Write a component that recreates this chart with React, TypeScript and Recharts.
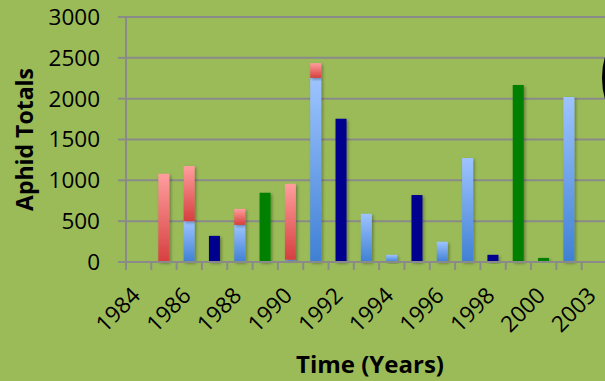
import React from 'react'
import { ComposedChart, Bar, XAxis, YAxis, CartesianGrid } from 'recharts'

const years = [
  '1984', '1985', '1986', '1987', '1988', '1989', '1990', '1991', '1992', '1993',
  '1994', '1995', '1996', '1997', '1998', '1999', '2000', '2001', '2003',
]
const lightBlue = [null, null, 500, null, 455, null, 28, 2255, null, 590, 88, null, 248, 1275, null, null, null, 2020, null]
const navy = [null, null, null, 320, null, null, null, null, 1755, null, null, 820, null, null, 88, null, null, null, null]
const green = [null, null, null, null, null, 848, null, null, null, null, null, null, null, null, null, 2168, 50, null, null]
const red = [null, 1080, 675, null, 195, null, 930, 180, null, null, null, null, null, null, null, null, null, null, null]
const yTicks = [0, 500, 1000, 1500, 2000, 2500, 3000]

const data = years.map((year, i) => ({
  year,
  lightBlue: lightBlue[i],
  navy: navy[i],
  green: green[i],
  red: red[i],
}))

const FONT = '"Open Sans", sans-serif'
const GRID = '#8a8a8a'

const YearTick = (props: any) => {
  const { x, y, payload, index } = props
  const half = payload && payload.offset ? payload.offset : 12.65
  const lx = x + 3
  const ly = y + 35
  return (
    <g>
      <line x1={x - half} y1={y} x2={x - half} y2={y + 8} stroke={GRID} strokeWidth={2} />
      {index === years.length - 1 && (
        <line x1={x + half} y1={y} x2={x + half} y2={y + 8} stroke={GRID} strokeWidth={2} />
      )}
      {index % 2 === 0 && (
        <text
          x={lx}
          y={ly}
          textAnchor="end"
          transform={`rotate(-45, ${lx}, ${ly})`}
          fontFamily={FONT}
          fontSize={22.5}
          fill="#000"
        >
          {payload.value}
        </text>
      )}
    </g>
  )
}

export default function App() {
  return (
    <div
      style={{
        position: 'absolute',
        left: 0,
        top: 0,
        width: 605,
        height: 381,
        overflow: 'hidden',
        background: '#9bbb59',
      }}
    >
      <ComposedChart
        width={607}
        height={381}
        data={data}
        margin={{ top: 17, right: 0, left: 0, bottom: 0 }}
        barSize={11}
      >
        <defs>
          <linearGradient id="redGrad" x1="0" y1="0" x2="0" y2="1">
            <stop offset="0%" stopColor="#ff9e9e" />
            <stop offset="100%" stopColor="#d63f3f" />
          </linearGradient>
          <linearGradient id="blueGrad" x1="0" y1="0" x2="0" y2="1">
            <stop offset="0%" stopColor="#9ec4ff" />
            <stop offset="100%" stopColor="#3f80d4" />
          </linearGradient>
          <filter id="shadow" x="-50%" y="-10%" width="200%" height="130%">
            <feDropShadow dx="1.5" dy="1.5" stdDeviation="1.5" floodColor="#000" floodOpacity="0.35" />
          </filter>
        </defs>
        <CartesianGrid vertical={false} stroke={GRID} strokeWidth={2} />
        <XAxis
          dataKey="year"
          interval={0}
          height={119}
          tickSize={0}
          tickMargin={0}
          tickLine={false}
          axisLine={{ stroke: GRID, strokeWidth: 2 }}
          tick={<YearTick />}
        />
        <YAxis
          width={126}
          domain={[0, 3000]}
          ticks={yTicks}
          tickSize={8}
          tickMargin={18}
          axisLine={{ stroke: GRID, strokeWidth: 2 }}
          tickLine={{ stroke: GRID, strokeWidth: 2 }}
          tick={{ fill: '#000', fontSize: 22.5, fontFamily: FONT }}
        />
        <Bar dataKey="lightBlue" stackId="a" fill="url(#blueGrad)" filter="url(#shadow)" isAnimationActive={false} />
        <Bar dataKey="navy" stackId="a" fill="#00008e" filter="url(#shadow)" isAnimationActive={false} />
        <Bar dataKey="green" stackId="a" fill="#008000" filter="url(#shadow)" isAnimationActive={false} />
        <Bar dataKey="red" stackId="a" fill="url(#redGrad)" filter="url(#shadow)" isAnimationActive={false} />
      </ComposedChart>
      <svg
        width={605}
        height={381}
        style={{ position: 'absolute', left: 0, top: 0, pointerEvents: 'none' }}
      >
        <text
          x={24}
          y={139.5}
          transform="rotate(-90, 24, 139.5)"
          textAnchor="middle"
          dominantBaseline="central"
          fontFamily={FONT}
          fontWeight={700}
          fontSize={23}
          fill="#000"
        >
          Aphid Totals
        </text>
        <text
          x={370}
          y={373}
          textAnchor="middle"
          fontFamily={FONT}
          fontWeight={700}
          fontSize={24}
          fill="#000"
        >
          Time (Years)
        </text>
        <circle cx={675} cy={78} r={70} fill="none" stroke="#000" strokeWidth={6} />
      </svg>
    </div>
  )
}
